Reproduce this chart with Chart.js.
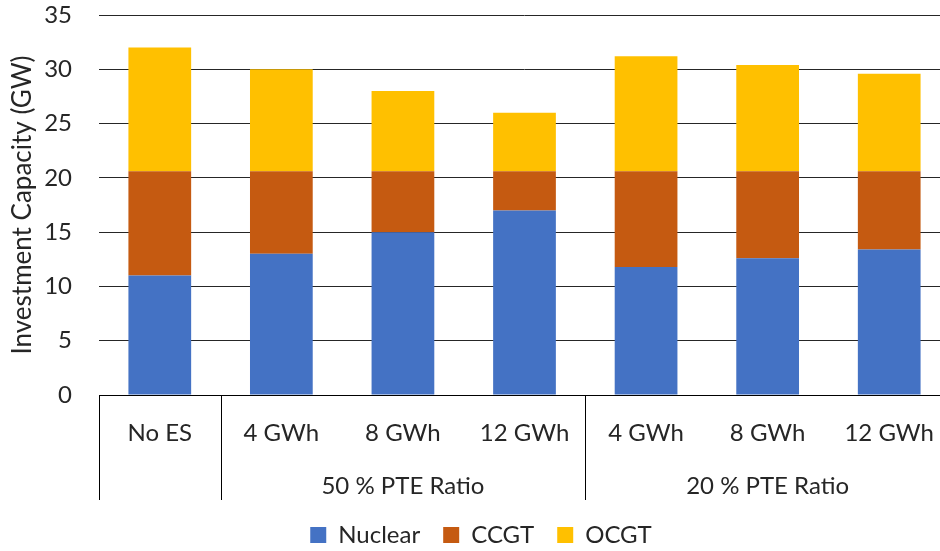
<!DOCTYPE html>
<html>
<head>
<meta charset="utf-8">
<script src="https://cdn.jsdelivr.net/npm/chart.js@4.4.1/dist/chart.umd.min.js"></script>
<style>
  html, body { margin: 0; padding: 0; background: #fff; overflow: hidden; }
  #wrap { width: 952px; height: 557px; position: relative; }
</style>
</head>
<body>
<div id="wrap"><canvas id="capacityChart"></canvas></div>
<script>
const categories = ['No ES', '4 GWh', '8 GWh', '12 GWh', '4 GWh', '8 GWh', '12 GWh'];
const groupLabels = ['', '50 % PTE Ratio', '20 % PTE Ratio'];
const groupStart = [0, 1, 4];
const groupEnd = [0, 3, 6];

const nuclear = [11.0, 13.0, 15.0, 17.0, 11.8, 12.6, 13.4];
const ccgt = [9.6, 7.6, 5.6, 3.6, 8.8, 8.0, 7.2];
const ocgt = [11.4, 9.4, 7.4, 5.4, 10.6, 9.8, 9.0];

const yMin = 0, yMax = 35, yStep = 5;

const FONT = 'Lato';
const TEXT = '#262626';
const HIDDEN = 'rgba(0,0,0,0)';

// second row of the x axis: group captions and the vertical dividers
const groupAxis = {
  id: 'groupAxis',
  afterDraw(chart) {
    const x = chart.scales.x;
    const ctx = chart.ctx;
    const band = x.width / categories.length;
    const top = x.top;
    const bottom = x.top + 105;
    ctx.save();
    ctx.strokeStyle = '#000';
    ctx.lineWidth = 1;
    ctx.beginPath();
    groupStart.forEach(s => {
      const px = Math.round(x.getPixelForValue(s) - band / 2) + 0.5;
      ctx.moveTo(px, top);
      ctx.lineTo(px, bottom);
    });
    const rx = Math.round(x.getPixelForValue(categories.length - 1) + band / 2) + 0.5;
    ctx.moveTo(rx, top);
    ctx.lineTo(rx, bottom);
    ctx.stroke();

    ctx.fillStyle = TEXT;
    ctx.font = '24px ' + FONT;
    ctx.textAlign = 'center';
    ctx.textBaseline = 'middle';
    groupLabels.forEach((g, i) => {
      if (!g) return;
      const cx = (x.getPixelForValue(groupStart[i]) + x.getPixelForValue(groupEnd[i])) / 2;
      ctx.fillText(g, cx, top + 91);
    });
    ctx.restore();
  }
};

new Chart(document.getElementById('capacityChart'), {
  type: 'bar',
  data: {
    labels: categories,
    datasets: [
      { label: 'Nuclear', data: nuclear, backgroundColor: '#4472C4' },
      { label: 'CCGT', data: ccgt, backgroundColor: '#C55A11' },
      { label: 'OCGT', data: ocgt, backgroundColor: '#FFC000' }
    ]
  },
  options: {
    responsive: true,
    maintainAspectRatio: false,
    animation: false,
    layout: { padding: { top: 15, right: 2, bottom: 0, left: 12 } },
    datasets: { bar: { categoryPercentage: 1, barPercentage: 0.516 } },
    plugins: {
      legend: {
        position: 'bottom',
        labels: {
          font: { family: FONT, size: 24 },
          color: TEXT,
          boxWidth: 16,
          boxHeight: 16,
          padding: 23
        }
      },
      tooltip: { enabled: false }
    },
    scales: {
      x: {
        stacked: true,
        // transparent tick marks push the labels down without widening the plot
        grid: { display: true, drawOnChartArea: false, drawTicks: true, tickLength: 24, color: HIDDEN, tickColor: HIDDEN },
        border: { display: true, color: '#000', width: 1 },
        ticks: {
          font: { family: FONT, size: 24 },
          color: TEXT,
          padding: 0,
          maxRotation: 0
        },
        afterFit(scale) { scale.height = 105; }
      },
      y: {
        stacked: true,
        min: yMin,
        max: yMax,
        ticks: {
          stepSize: yStep,
          font: { family: FONT, size: 24 },
          color: TEXT,
          padding: 0
        },
        grid: { color: '#262626', lineWidth: 1, drawTicks: true, tickLength: 27, tickColor: HIDDEN },
        border: { display: false },
        title: {
          display: true,
          text: 'Investment Capacity (GW)',
          font: { family: FONT, size: 26 },
          color: TEXT,
          padding: { top: -5, bottom: 0 }
        },
        afterFit(scale) { scale.width = 87; }
      }
    }
  },
  plugins: [groupAxis]
});
</script>
</body>
</html>
